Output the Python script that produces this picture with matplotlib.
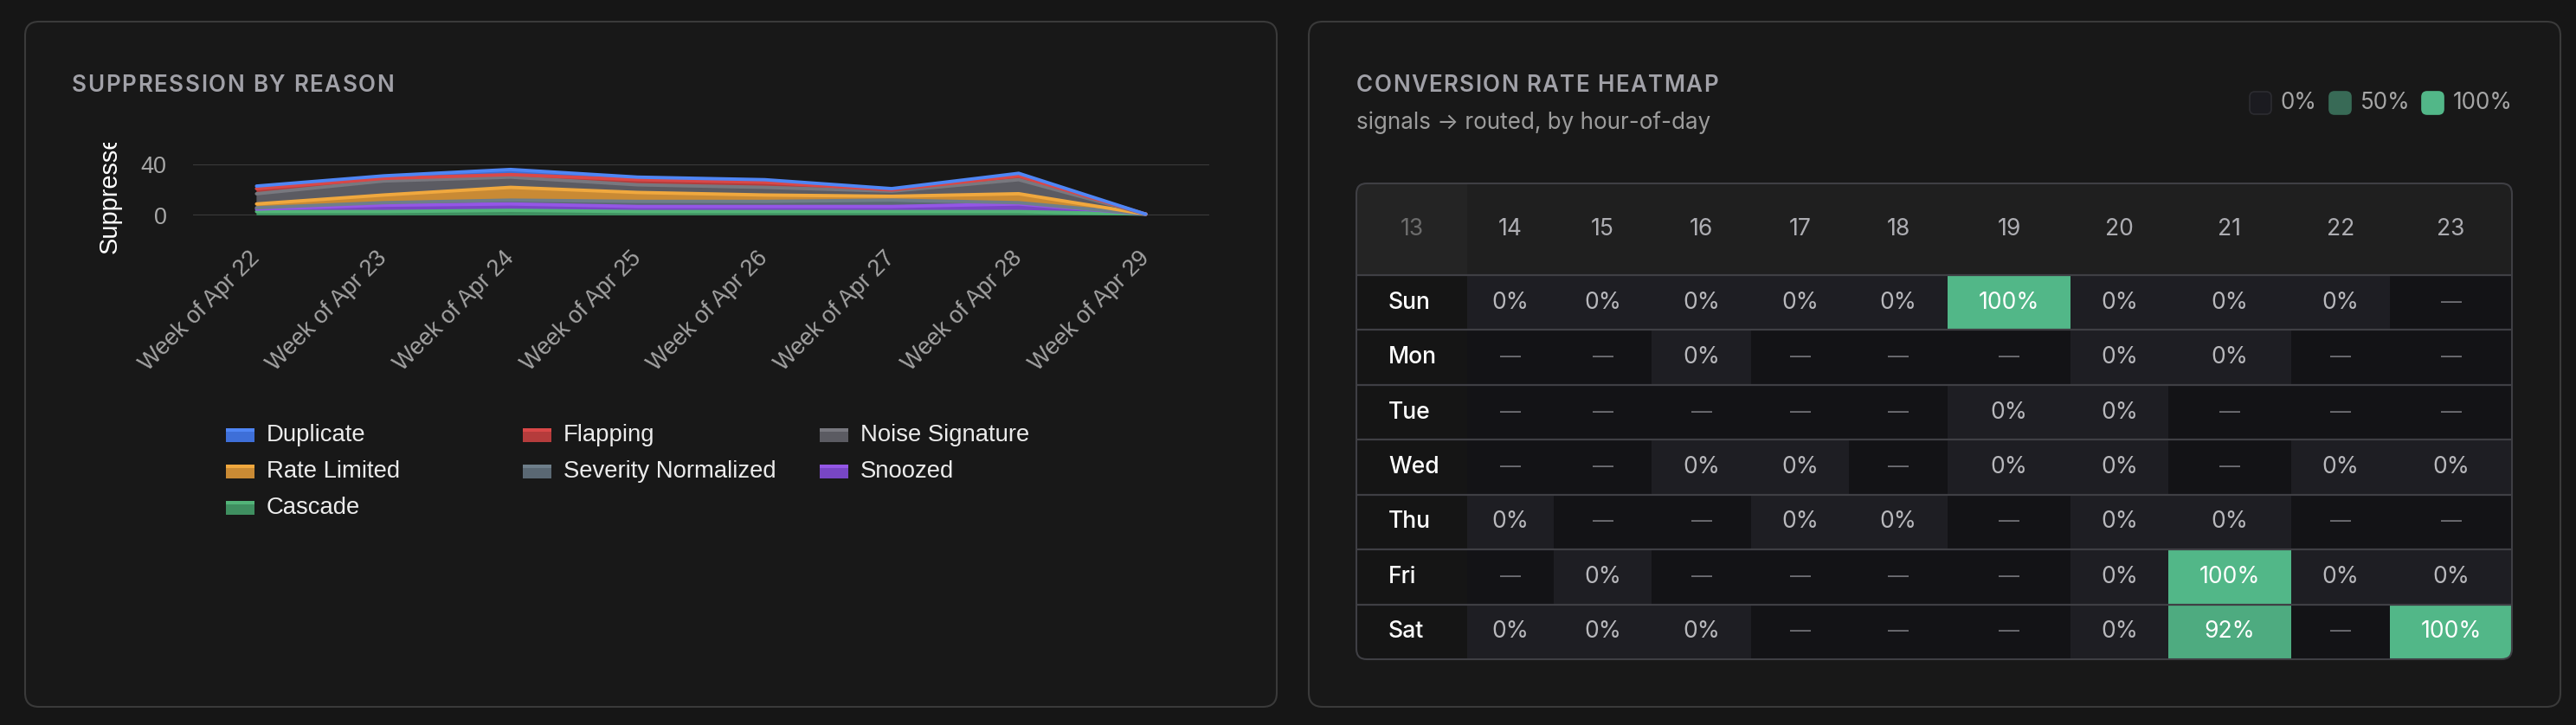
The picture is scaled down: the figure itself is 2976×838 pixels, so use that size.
import matplotlib.pyplot as plt
from matplotlib.patches import FancyBboxPatch, Rectangle
from matplotlib.font_manager import FontProperties
from matplotlib.textpath import text_to_path
from matplotlib.transforms import Bbox
import matplotlib.colors as mcolors
import numpy as np

# ---- data: suppression by reason (weekly counts) ----
weeks = ["Week of Apr 22", "Week of Apr 23", "Week of Apr 24", "Week of Apr 25",
         "Week of Apr 26", "Week of Apr 27", "Week of Apr 28", "Week of Apr 29"]
reasons = ["Duplicate", "Flapping", "Noise Signature", "Rate Limited",
           "Severity Normalized", "Snoozed", "Cascade"]
duplicate = [2, 2, 4, 2, 2, 1, 2, 0]
flapping = [4, 2, 2, 4, 4, 1, 3, 0]
noise_signature = [8, 11, 8, 6, 6, 4, 11, 0]
rate_limited = [3, 6, 10, 7, 5, 3, 7, 0]
severity_normalized = [1, 2, 3, 4, 4, 5, 1, 0]
snoozed = [2, 5, 5, 4, 4, 4, 6, 0]
cascade = [3, 3, 4, 3, 3, 3, 3, 1]

# ---- data: conversion rate heatmap (None = no signals) ----
days = ["Sun", "Mon", "Tue", "Wed", "Thu", "Fri", "Sat"]
hours = ["13", "14", "15", "16", "17", "18", "19", "20", "21", "22", "23"]
rates = [
    [0, 0, 0, 0, 0, 100, 0, 0, 0, None],
    [None, None, 0, None, None, None, 0, 0, None, None],
    [None, None, None, None, None, 0, 0, None, None, None],
    [None, None, 0, 0, None, 0, 0, None, 0, 0],
    [0, None, None, 0, 0, None, 0, 0, None, None],
    [None, 0, None, None, None, None, 0, 100, 0, 0],
    [0, 0, 0, None, None, None, 0, 92, None, 100],
]
scale_steps = [0, 50, 100]

# ---- style ----
W, H = 2976, 838
BG = "#161616"
PANEL = "#181818"
BORDER = "#3a3a3a"
fills = {"Duplicate": "#3e6fd8", "Flapping": "#b53c3c", "Noise Signature": "#5b5b62",
         "Rate Limited": "#c98a34", "Severity Normalized": "#5a6873", "Snoozed": "#7846c4",
         "Cascade": "#3f8f60"}
edges = {"Duplicate": "#4f86f5", "Flapping": "#d94848", "Noise Signature": "#78787f",
         "Rate Limited": "#f0a83e", "Severity Normalized": "#6e7e8a", "Snoozed": "#9457e6",
         "Cascade": "#52b478"}
SANS = ["Liberation Sans", "DejaVu Sans"]
UI = ["Inter", "DejaVu Sans"]


def pt(px):
    return px * 0.72


fig = plt.figure(figsize=(W / 100, H / 100), dpi=100, facecolor=BG)
bg = fig.add_axes([0, 0, 1, 1])
bg.set_xlim(0, W)
bg.set_ylim(H, 0)
bg.axis("off")


def tracked(x, y, s, size_px, spacing, **kw):
    # text with extra letter spacing (px), drawn char by char
    prop = FontProperties(family=UI, size=pt(size_px), weight=kw.get("fontweight", "normal"))
    for i, ch in enumerate(s):
        w = text_to_path.get_text_width_height_descent(s[:i], prop, ismath=False)[0] if i else 0
        bg.text(x + w * 100 / 72 + i * spacing, y, ch, fontproperties=prop,
                color=kw.get("color"), va="baseline")


for x0, x1 in [(29, 1475), (1512, 2958)]:
    bg.add_patch(FancyBboxPatch((x0, 25), x1 - x0, 792,
                                boxstyle="round,pad=0,rounding_size=16",
                                fc=PANEL, ec=BORDER, lw=1.5))

# ---- left panel ----
tracked(83, 106, "SUPPRESSION BY REASON", 26, 1.6, fontweight="semibold", color="#a1a1a8")

ax = fig.add_axes([223 / W, 1 - 249 / H, 1174 / W, 59 / H])
ax.set_facecolor("none")
x = np.arange(len(weeks))
order = ["Cascade", "Snoozed", "Severity Normalized", "Rate Limited",
         "Noise Signature", "Flapping", "Duplicate"]
series = {"Duplicate": duplicate, "Flapping": flapping, "Noise Signature": noise_signature,
          "Rate Limited": rate_limited, "Severity Normalized": severity_normalized,
          "Snoozed": snoozed, "Cascade": cascade}
ys = np.array([series[n] for n in order], dtype=float)
ax.stackplot(x, ys, colors=[fills[n] for n in order], lw=0, zorder=2)
cum = np.cumsum(ys, axis=0)
for n, c in zip(order, cum):
    ax.plot(x, c, color=edges[n], lw=2.8, solid_capstyle="round",
            solid_joinstyle="round", zorder=3, clip_on=False)

ax.set_xlim(-0.5, len(weeks) - 0.5)
ax.set_ylim(0, 40)
ax.set_yticks([0, 40])
ax.grid(axis="y", color=BORDER, lw=1.6)
ax.set_axisbelow(True)
for s in ax.spines.values():
    s.set_visible(False)
ax.set_xticks(x)
ax.set_xticklabels(weeks, rotation=45, ha="right", va="center", rotation_mode="anchor",
                   family=SANS, fontsize=pt(27), color="#a3a3a3")
ax.tick_params(axis="x", length=0, pad=33)
ax.tick_params(axis="y", length=0, pad=22, labelsize=pt(27), labelcolor="#a8a8a8")
for lab in ax.get_yticklabels():
    lab.set_family(SANS)

# y title is cut off by the top of the chart canvas (y = 165 px)
ylab = bg.text(127, 293, "Suppressed", rotation=90, ha="center", va="bottom",
               family=SANS, fontsize=pt(29), color="white")
ylab.set_clip_on(True)
ylab.set_clip_box(Bbox.from_extents(0, 0, W, H - 165))

for i, n in enumerate(reasons):
    lx = 261 + (i % 3) * 343
    ly = 503 + (i // 3) * 42
    bg.add_patch(Rectangle((lx, ly - 8), 33, 16, fc=fills[n], ec="none"))
    bg.add_patch(Rectangle((lx, ly - 8), 33, 4, fc=edges[n], ec="none"))
    bg.text(lx + 47, ly, n, family=SANS, fontsize=pt(27.5), color="#ececec", va="center")

# ---- right panel ----
tracked(1567, 106, "CONVERSION RATE HEATMAP", 26, 1.4, fontweight="semibold", color="#a1a1a8")
bg.text(1567, 149, "signals \u2192 routed, by hour-of-day", family=UI, fontsize=pt(26),
        color="#9c9c9c", va="baseline")

BASE = np.array(mcolors.to_rgb("#1e1e23"))
GREEN = np.array(mcolors.to_rgb("#52b788"))
EMPTY = "#131316"


def cell_color(v):
    if v is None:
        return EMPTY
    t = v / 100
    return tuple(BASE + (GREEN - BASE) * t)


for v, tx in zip(scale_steps, [2635, 2727, 2834]):
    sx = tx - 36
    bg.add_patch(FancyBboxPatch((sx, 106), 25, 26, boxstyle="round,pad=0,rounding_size=6",
                                fc=cell_color(v) if v else "#1b1b20",
                                ec="#2c2c31" if v == 0 else cell_color(v), lw=1.2))
    bg.text(tx, 119, f"{v}%", family=UI, fontsize=pt(26), color="#a6a6a6", va="center")

tx0, ty0, tw, th = 1567, 212, 1335, 550
head_h = 106
row_h = (th - head_h) / len(days)
col_w = [128, 100, 113, 115, 113, 114, 142, 113, 142, 114, 141]
col_x = tx0 + np.concatenate([[0], np.cumsum(col_w)])

table = FancyBboxPatch((tx0, ty0), tw, th, boxstyle="round,pad=0,rounding_size=12",
                       fc="none", ec="#3f3f44", lw=1.5, zorder=5)
bg.add_patch(table)

clipped = []
clipped.append(bg.add_patch(Rectangle((tx0, ty0), tw, head_h, fc="#1f1f1f", ec="none")))
clipped.append(bg.add_patch(Rectangle((tx0, ty0), col_w[0], head_h, fc="#242424", ec="none")))
clipped.append(bg.add_patch(Rectangle((tx0, ty0 + head_h), col_w[0], th - head_h,
                                      fc="#151515", ec="none")))

for i, h in enumerate(hours):
    cx = (col_x[i] + col_x[i + 1]) / 2
    bg.text(cx, ty0 + head_h / 2, h, family=UI, fontsize=pt(26.5),
            color="#6c6c6c" if i == 0 else "#aeaeb3", ha="center", va="center")

for r, (day, row) in enumerate(zip(days, rates)):
    y = ty0 + head_h + r * row_h
    bg.text(1604, y + row_h / 2, day, family=UI, fontsize=pt(26.5), fontweight="medium",
            color="white", va="center")
    for c, v in enumerate(row):
        x0 = col_x[c + 1]
        clipped.append(bg.add_patch(Rectangle((x0, y), col_w[c + 1], row_h,
                                              fc=cell_color(v), ec="none")))
        cx = x0 + col_w[c + 1] / 2
        if v is None:
            bg.text(cx, y + row_h / 2, "\u2014", family=UI, fontsize=pt(24),
                    color="#6e6e73", ha="center", va="center")
        else:
            bg.text(cx, y + row_h / 2, f"{v}%", family=UI, fontsize=pt(26.5),
                    color="white" if v >= 50 else "#b8b8bc", ha="center", va="center")

for r in range(len(days)):
    y = ty0 + head_h + r * row_h
    line, = bg.plot([tx0, tx0 + tw], [y, y], color="#3f3f44", lw=1.6)
    clipped.append(line)

for a in clipped:
    a.set_clip_path(table)

fig.savefig("out.png", dpi=100, facecolor=BG)
